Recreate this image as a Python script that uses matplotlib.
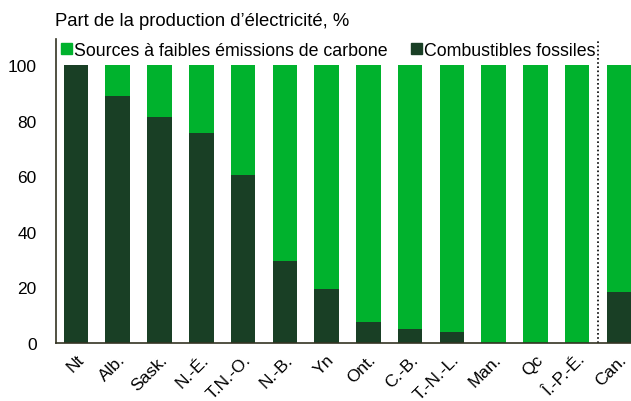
import matplotlib
matplotlib.use("Agg")
import matplotlib.pyplot as plt
from matplotlib.patches import Patch

plt.rcParams['font.family'] = ['Liberation Sans', 'DejaVu Sans']

categories = ["Nt", "Alb.", "Sask.", "N.-É.", "T.N.-O.", "N.-B.", "Yn", "Ont.",
              "C.-B.", "T.-N.-L.", "Man.", "Qc", "Î.-P.-É.", "Can."]
fossil = [100, 89, 81.5, 75.5, 60.5, 29.5, 19.5, 7.5, 5, 4, 0, 0, 0, 18.5]
low_carbon = [100 - f for f in fossil]

green = "#00B22D"
dark = "#193F25"

fig = plt.figure(figsize=(6.31, 4.02), dpi=100)
ax = fig.add_axes([56/631, 1-344/402, 1-56/631, (344-40)/402])

x = list(range(len(categories)))
w = 0.59
ax.bar(x, fossil, width=w, color=dark)
ax.bar(x, low_carbon, width=w, bottom=fossil, color=green)

ax.axvline(12.5, color="black", linestyle=(0, (1, 1.5)), linewidth=1.2)

ax.set_xlim(-0.48, 13.29)
ax.set_ylim(0, 109.4)
ax.set_yticks([0, 20, 40, 60, 80, 100])
ax.set_xticks(x)
ax.set_xticklabels(categories, rotation=45, ha="right", rotation_mode="anchor")
ax.tick_params(axis="both", length=0, labelsize=12.5, colors="black")
ax.tick_params(axis="y", pad=14)
ax.tick_params(axis="x", pad=6)
for s in ["top", "right"]:
    ax.spines[s].set_visible(False)
for s in ["left", "bottom"]:
    ax.spines[s].set_color("#333322")
    ax.spines[s].set_linewidth(1.2)

handles = [Patch(color=green), Patch(color=dark)]
ax.legend(handles, ["Sources à faibles émissions de carbone", "Combustibles fossiles"],
          loc="upper left", bbox_to_anchor=(-0.01, 1.025), ncol=2, frameon=False,
          handlelength=0.6, handleheight=0.6, handletextpad=0.15,
          columnspacing=1.3, fontsize=12.8, borderaxespad=0.2)

fig.text(55/631, 1-22/402, "Part de la production d’électricité, %", fontsize=13.3,
         va="center", ha="left")

fig.savefig("out.png", dpi=100)
